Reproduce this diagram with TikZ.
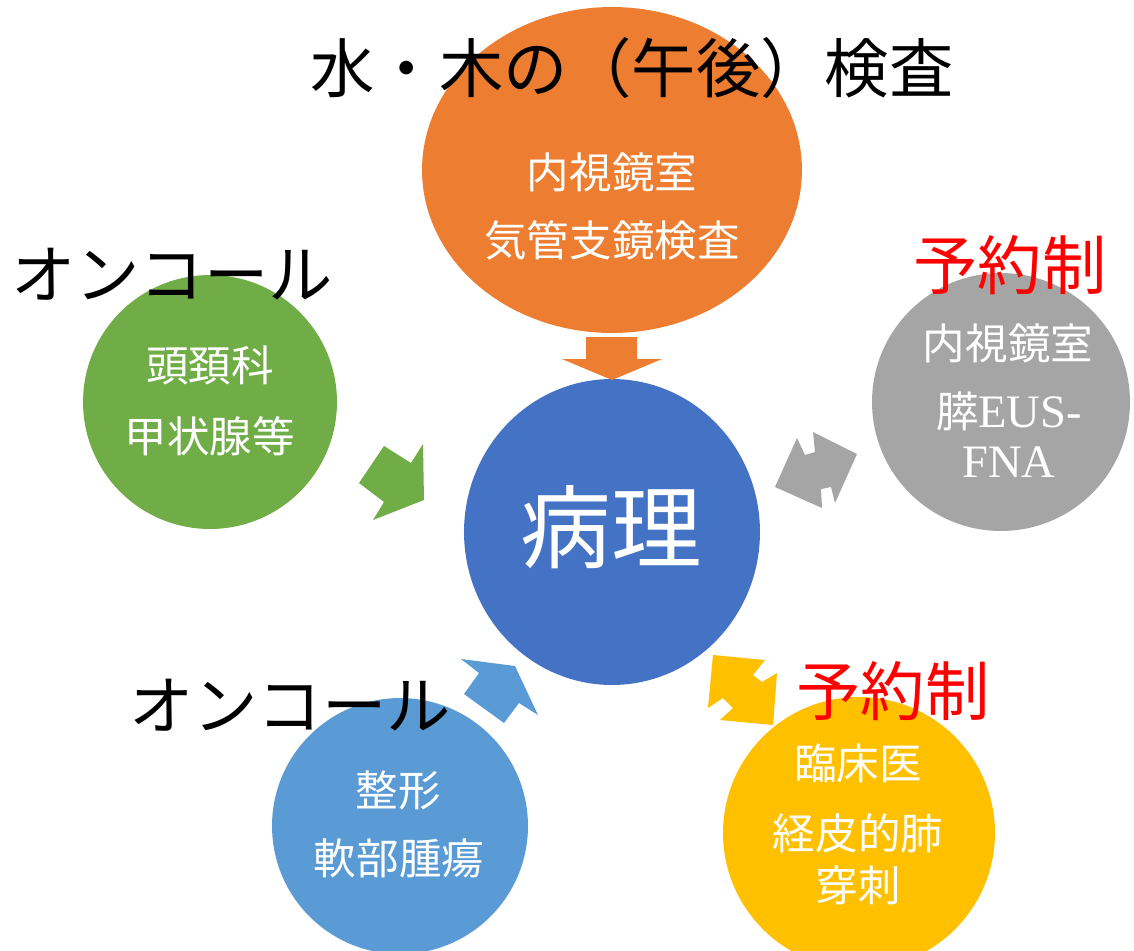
\documentclass[tikz,border=0pt]{standalone}
\usepackage{fontspec}
\setmainfont{Noto Sans CJK JP}
\newfontfamily\latinserif{Liberation Serif}
\usetikzlibrary{shapes.geometric}
\definecolor{cOrange}{HTML}{ED7D31}
\definecolor{cBlue}{HTML}{4472C4}
\definecolor{cGreen}{HTML}{70AD47}
\definecolor{cGray}{HTML}{A5A5A5}
\definecolor{cLBlue}{HTML}{5B9BD5}
\definecolor{cYellow}{HTML}{FFC000}
\definecolor{cRed}{HTML}{FF0000}
\tikzset{
  blob/.style={circle, inner sep=0pt, draw=none},
  intext/.style={inner sep=0pt, text=white, font=\fontsize{24.2}{29}\selectfont},
  headtext/.style={inner sep=0pt, text=black, font=\fontsize{36.6}{44}\selectfont},
  redtext/.style={inner sep=0pt, text=cRed, font=\fontsize{36.6}{44}\selectfont},
  blockarrow/.style={draw=none}
}
\begin{document}
\begin{tikzpicture}[x=0.02cm, y=-0.02cm]
\clip (0,0) rectangle (1134,951);
\fill[white] (0,0) rectangle (1134,951);
% circles
\node[ellipse, inner sep=0pt, fill=cOrange, minimum width=7.6cm, minimum height=6.52cm] (orange) at (612,170) {};
\node[ellipse, inner sep=0pt, fill=cBlue, minimum width=5.92cm, minimum height=6.12cm] (patho) at (612,532) {};
\node[blob, fill=cGreen, minimum size=5.08cm] (green) at (210,402) {};
\node[blob, fill=cGray, minimum size=5.16cm] (gray) at (1001,402) {};
\node[blob, fill=cLBlue, minimum size=5.12cm] (lblue) at (400,826) {};
\node[blob, fill=cYellow, minimum size=5.44cm] (yellow) at (859,833) {};
% block arrows
\fill[cOrange, blockarrow] (586,337) -- (637,337) -- (637,359) -- (662,359) -- (612,380) -- (562,359) -- (586,359) -- cycle;
\fill[cGreen, blockarrow] (384,446) -- (411,463) -- (423,444) -- (424,500) -- (373,520) -- (384,502) -- (359,483) -- cycle;
\fill[cLBlue, blockarrow] (461,659) -- (515,666) -- (538,715) -- (519,703) -- (504,723) -- (464,694) -- (479,673) -- cycle;
\fill[cYellow, blockarrow] (713,655) -- (765,660) -- (753,675) -- (762,682) -- (777,673) -- (773,725) -- (720,720) -- (733,708) -- (723,698) -- (708,708) -- cycle;
\fill[cGray, blockarrow] (797,438) -- (805,455) -- (815,452) -- (813,432) -- (857,454) -- (835,503) -- (831,487) -- (821,489) -- (822,508) -- (775,487) -- cycle;
% texts inside
\node[intext] (o1) at (612,172) {内視鏡室};
\node[intext] (o2) at (612,240) {気管支鏡検査};
\node[intext, font=\fontsize{51.5}{60}\selectfont] (p1) at (611,527) {病理};
\node[intext] (g1) at (210,365) {頭頚科};
\node[intext] (g2) at (210,436) {甲状腺等};
\node[intext] (r1) at (1008,343) {内視鏡室};
\node[intext] (r2) at (1009,411) {膵{\latinserif\fontsize{26.5}{30}\selectfont EUS-}};
\node[intext, font=\latinserif\fontsize{26.5}{30}\selectfont] (r3) at (1009,462) {FNA};
\node[intext] (b1) at (398,790) {整形};
\node[intext] (b2) at (399,858) {軟部腫瘍};
\node[intext] (y1) at (858,763) {臨床医};
\node[intext] (y2) at (858,833) {経皮的肺};
\node[intext] (y3) at (858,885) {穿刺};
% headings
\node[headtext] (title) at (632,68) {水・木の（午後）検査};
\node[headtext] (on1) at (172,274) {オンコール};
\node[headtext] (on2) at (290,705) {オンコール};
\node[redtext] (res1) at (1010,265) {予約制};
\node[redtext] (res2) at (893,691) {予約制};
\end{tikzpicture}
\end{document}
